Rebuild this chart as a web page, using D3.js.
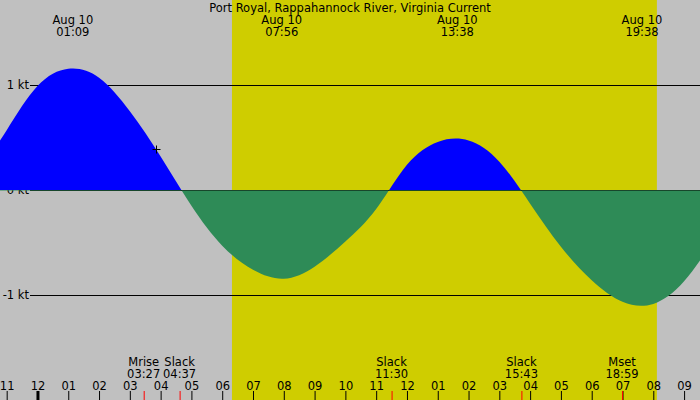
<!DOCTYPE html>
<html>
<head>
<meta charset="utf-8">
<script src="https://cdn.jsdelivr.net/npm/d3@7"></script>
<style>
  body { margin: 0; background: #c0c0c0; }
  svg { display: block; font-family: "DejaVu Sans", sans-serif; font-size: 11.5px; }
</style>
</head>
<body>
<svg id="chart" width="700" height="400"></svg>
<script>
// chart data: hourly current in knots, hour 0 = Aug 10 00:00
const title = "Port Royal, Rappahannock River, Virginia Current";
const dayLabel = "Aug 10";
const curveHours = d3.range(-2, 23);
const curveKnots = [0.12, 0.57, 0.99, 1.155, 1.07, 0.75, 0.32, -0.15, -0.53, -0.76, -0.845,
  -0.73, -0.49, -0.18, 0.24, 0.458, 0.472, 0.27, -0.13, -0.54, -0.86, -1.065, -1.085, -0.87, -0.46];
const extremeTimes = ["01:09", "07:56", "13:38", "19:38"];
const eventNames = ["Mrise", "Slack", "Slack", "Slack", "Mset"];
const eventTimes = ["03:27", "04:37", "11:30", "15:43", "18:59"];
const daylight = ["06:19", "20:07"];
const hourTicks = d3.range(-1, 22);
const ktTicks = [1, 0, -1];
const marker = { time: "03:51", kt: 0.39 };

let svg = d3.select("#chart"),
    width = +svg.attr("width"),
    height = +svg.attr("height");

function hrs(s) {
  let p = s.split(":");
  return +p[0] + p[1] / 60;
}

let x = d3.scaleLinear().domain([-1.2167, 21.517]).range([0, width]);
let y = d3.scaleLinear().domain([-1, 1]).range([295, 85]);

// daylight band
svg.append("rect")
    .attr("x", x(hrs(daylight[0])))
    .attr("y", 0)
    .attr("width", x(hrs(daylight[1])) - x(hrs(daylight[0])))
    .attr("height", height)
    .attr("fill", "#cfcd00");

// knot lines
svg.append("g")
  .selectAll("line")
  .data(ktTicks)
  .enter().append("line")
    .attr("x1", 30)
    .attr("x2", width)
    .attr("y1", function(d) { return Math.round(y(d)) + 0.5; })
    .attr("y2", function(d) { return Math.round(y(d)) + 0.5; })
    .attr("stroke", "#000");

svg.append("g")
  .selectAll("text")
  .data(ktTicks)
  .enter().append("text")
    .attr("x", 29)
    .attr("y", function(d) { return y(d); })
    .attr("dy", "0.35em")
    .attr("text-anchor", "end")
    .text(function(d) { return d + " kt"; });

// current area, blue for flood and green for ebb
let pts = curveHours.map(function(h, i) { return [h, curveKnots[i]]; });
let zeroY = Math.round(y(0)) + 0.5;

let defs = svg.append("defs");
defs.append("clipPath").attr("id", "above")
  .append("rect").attr("x", 0).attr("y", 0).attr("width", width).attr("height", zeroY - 0.5);
defs.append("clipPath").attr("id", "below")
  .append("rect").attr("x", 0).attr("y", zeroY - 0.5).attr("width", width).attr("height", height);

let area = d3.area()
    .curve(d3.curveNatural)
    .x(function(d) { return x(d[0]); })
    .y0(zeroY)
    .y1(function(d) { return y(d[1]); });

svg.append("path").datum(pts)
    .attr("clip-path", "url(#above)")
    .attr("fill", "#0000ff")
    .attr("d", area);

svg.append("path").datum(pts)
    .attr("clip-path", "url(#below)")
    .attr("fill", "#2e8b57")
    .attr("d", area);

// marker cross
let mx = Math.round(x(hrs(marker.time))) + 0.5, my = Math.round(y(marker.kt)) + 0.5;
svg.append("path")
    .attr("d", "M" + (mx - 4) + "," + my + "H" + (mx + 4) + "M" + mx + "," + (my - 4) + "V" + (my + 4))
    .attr("stroke", "#000");

// title
svg.append("text")
    .attr("x", width / 2)
    .attr("y", 12)
    .attr("text-anchor", "middle")
    .text(title);

// extremes at the top
let ext = svg.append("g")
    .attr("text-anchor", "middle")
  .selectAll("g")
  .data(extremeTimes)
  .enter().append("g")
    .attr("transform", function(d) { return "translate(" + x(hrs(d)) + ",0)"; });

ext.append("text").attr("y", 24).text(dayLabel);
ext.append("text").attr("y", 36).text(function(d) { return d; });

// events at the bottom
let ev = svg.append("g")
    .attr("text-anchor", "middle")
  .selectAll("g")
  .data(eventTimes)
  .enter().append("g")
    .attr("transform", function(d) { return "translate(" + x(hrs(d)) + ",0)"; });

ev.append("text").attr("y", 366).text(function(d, i) { return eventNames[i]; });
ev.append("text").attr("y", 378).text(function(d) { return d; });

// hour axis
let hourAxis = svg.append("g")
    .attr("transform", "translate(0," + height + ")")
    .call(d3.axisTop(x)
      .tickValues(hourTicks)
      .tickSize(9)
      .tickPadding(1)
      .tickFormat(function(h) { return d3.format("02")((h + 12) % 12 || 12); }));

hourAxis.select(".domain").remove();
hourAxis.attr("font-family", null).attr("font-size", null);
hourAxis.selectAll("text").attr("fill", "#000");
hourAxis.selectAll(".tick line").attr("stroke", "#000");
hourAxis.selectAll(".tick").filter(function(d) { return d === 0; })
  .select("line").attr("stroke-width", 3);

// event ticks
let evAxis = svg.append("g")
    .attr("transform", "translate(0," + height + ")")
    .call(d3.axisTop(x)
      .tickValues(eventTimes.map(hrs))
      .tickSize(9)
      .tickFormat(""));

evAxis.select(".domain").remove();
evAxis.selectAll(".tick line").attr("stroke", "#ff0000");
</script>
</body>
</html>
